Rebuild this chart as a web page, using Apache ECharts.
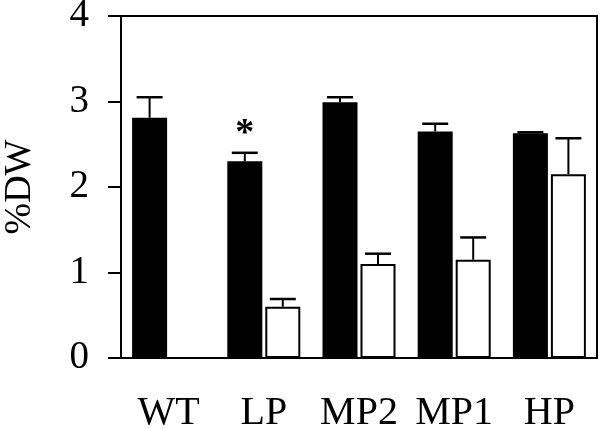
<!DOCTYPE html>
<html>
<head>
<meta charset="utf-8">
<script src="https://cdn.jsdelivr.net/npm/echarts@6/dist/echarts.min.js"></script>
<style>html,body{margin:0;padding:0;background:#fff}#c{width:600px;height:429px}</style>
</head>
<body>
<div id="c"></div>
<script>
var categories = ['WT', 'LP', 'MP2', 'MP1', 'HP'];
var blackValues = [2.81, 2.30, 2.99, 2.65, 2.63];
var blackSD = [0.24, 0.10, 0.06, 0.09, 0.01];
var whiteValues = [null, 0.60, 1.10, 1.15, 2.15];
var whiteSD = [null, 0.09, 0.12, 0.26, 0.42];
var sigMarks = ['', '*', '', '', ''];
var yTicks = [0, 1, 2, 3, 4];

var FONT = '"Liberation Serif", "Times New Roman", Times, serif';
var BAR_W = 35, GAP = 3;
var OFFSET = (BAR_W + GAP) / 2;

function errSeries(vals, sds, dx) {
  var data = [];
  for (var i = 0; i < vals.length; i++) {
    if (vals[i] == null || sds[i] == null) continue;
    data.push([i, vals[i], vals[i] + sds[i]]);
  }
  return {
    type: 'custom',
    z: 5,
    data: data,
    renderItem: function (params, api) {
      var c = api.value(0);
      var p0 = api.coord([c, api.value(1)]);
      var p1 = api.coord([c, api.value(2)]);
      var x = p0[0] + dx;
      var half = 13;
      return {
        type: 'group',
        children: [
          { type: 'line', shape: { x1: x, y1: p0[1], x2: x, y2: p1[1] }, style: { stroke: '#000', lineWidth: 2 } },
          { type: 'line', shape: { x1: x - half, y1: p1[1], x2: x + half, y2: p1[1] }, style: { stroke: '#000', lineWidth: 2.5 } }
        ]
      };
    }
  };
}

var chart = echarts.init(document.getElementById('c'));
chart.setOption({
  animation: false,
  backgroundColor: '#fff',
  grid: { left: 121, right: 3, top: 16, bottom: 71, show: true, borderColor: '#000', borderWidth: 2, containLabel: false, outerBoundsMode: 'none' },
  xAxis: {
    type: 'category',
    data: categories,
    axisLine: { lineStyle: { color: '#000', width: 2 } },
    axisTick: { alignWithLabel: true, length: 12, lineStyle: { color: '#000', width: 2 } },
    axisLabel: { interval: 0, color: '#000', fontFamily: FONT, fontSize: 40, margin: 35, hideOverlap: false },
    splitLine: { show: false }
  },
  yAxis: {
    type: 'value',
    min: yTicks[0],
    max: yTicks[yTicks.length - 1],
    interval: 1,
    name: '%DW',
    nameLocation: 'middle',
    nameGap: 82,
    nameRotate: 90,
    nameTextStyle: { color: '#000', fontFamily: FONT, fontSize: 38 },
    axisLine: { show: true, lineStyle: { color: '#000', width: 2 } },
    axisTick: { show: true, length: 13, lineStyle: { color: '#000', width: 2 } },
    axisLabel: { color: '#000', fontFamily: FONT, fontSize: 39, margin: 32 },
    splitLine: { show: false }
  },
  series: [
    {
      type: 'bar',
      barWidth: BAR_W,
      barGap: (GAP / BAR_W * 100) + '%',
      data: blackValues.map(function (v, i) {
        var d = { value: v };
        if (sigMarks[i]) {
          d.label = { show: true, position: 'top', formatter: sigMarks[i], distance: 8, color: '#000', fontFamily: FONT, fontWeight: 'bold', fontSize: 38 };
        }
        return d;
      }),
      itemStyle: { color: '#000', borderColor: '#000', borderWidth: 0 }
    },
    {
      type: 'bar',
      barWidth: BAR_W,
      data: whiteValues,
      itemStyle: { color: '#fff', borderColor: '#000', borderWidth: 2 }
    },
    errSeries(blackValues, blackSD, -OFFSET),
    errSeries(whiteValues, whiteSD, OFFSET)
  ]
});
</script>
</body>
</html>
